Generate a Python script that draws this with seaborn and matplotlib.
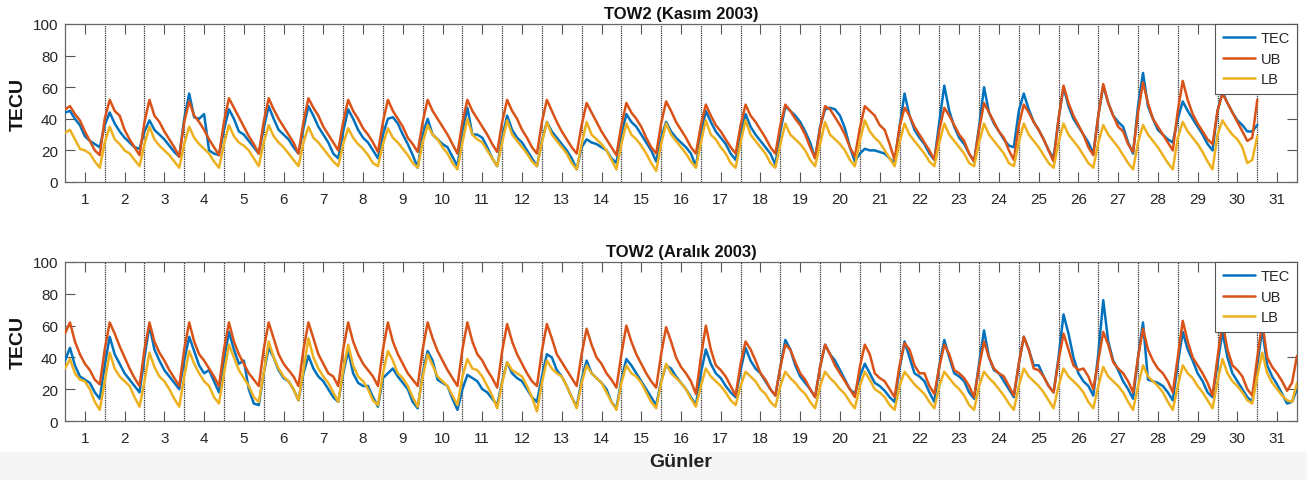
import numpy as np
import pandas as pd
import matplotlib
matplotlib.use("Agg")
import matplotlib.pyplot as plt
from matplotlib.patches import Rectangle
import seaborn as sns

# Station TOW2, TEC with upper/lower bounds, 3-hourly UT samples (00,03,...,21 h) per day.
days = list(range(1, 32))
series_names = ["TEC", "UB", "LB"]
titles = ["TOW2 (Kasım 2003)", "TOW2 (Aralık 2003)"]
sample_step_hours = 3

# ---- November 2003 (30 days, last day closes with its 24 h value) ----
nov_tec = [
    44, 45, 40, 36, 29, 26, 24, 22,
    36, 44, 37, 32, 28, 25, 22, 21,
    32, 39, 33, 30, 27, 23, 19, 16,
    40, 56, 41, 40, 43, 20, 18, 17,
    33, 46, 40, 32, 30, 26, 22, 18,
    34, 48, 40, 33, 30, 27, 22, 18,
    34, 48, 42, 35, 30, 25, 18, 15,
    32, 46, 40, 33, 28, 25, 20, 15,
    30, 40, 41, 37, 30, 24, 17, 9,
    30, 40, 30, 27, 24, 22, 16, 10,
    32, 47, 30, 30, 28, 22, 15, 10,
    28, 42, 33, 28, 25, 20, 15, 10,
    26, 38, 32, 28, 24, 20, 15, 8,
    22, 27, 25, 24, 22, 20, 15, 12,
    30, 43, 38, 35, 30, 25, 20, 13,
    28, 38, 32, 28, 25, 22, 18, 10,
    30, 45, 38, 32, 28, 24, 18, 14,
    30, 43, 35, 30, 26, 22, 18, 11,
    32, 48, 45, 42, 38, 32, 25, 15,
    35, 46, 47, 46, 42, 34, 22, 13,
    18, 21, 20, 20, 19, 18, 15, 12,
    35, 56, 42, 33, 28, 24, 18, 14,
    38, 61, 45, 35, 28, 24, 18, 13,
    35, 60, 44, 37, 32, 27, 23, 22,
    45, 56, 46, 38, 33, 27, 20, 15,
    40, 60, 48, 40, 35, 30, 25, 18,
    42, 61, 50, 42, 38, 35, 25, 18,
    48, 69, 48, 40, 33, 30, 27, 25,
    40, 51, 45, 40, 35, 30, 24, 20,
    45, 57, 50, 44, 39, 36, 32, 32, 36,
]
nov_ub = [
    46, 48, 43, 39, 32, 26, 20, 17,
    40, 52, 45, 42, 33, 27, 22, 17,
    38, 52, 42, 38, 32, 27, 22, 16,
    38, 51, 42, 38, 33, 27, 22, 17,
    38, 53, 47, 41, 35, 29, 24, 18,
    38, 53, 46, 40, 35, 30, 25, 18,
    38, 53, 47, 42, 35, 30, 25, 20,
    38, 52, 45, 40, 34, 30, 25, 19,
    38, 52, 45, 40, 35, 28, 24, 19,
    38, 52, 45, 40, 35, 30, 24, 18,
    38, 52, 45, 40, 35, 30, 24, 19,
    38, 52, 45, 40, 33, 28, 22, 18,
    38, 52, 45, 38, 32, 27, 22, 18,
    36, 50, 44, 38, 32, 27, 22, 17,
    36, 50, 44, 40, 35, 28, 22, 18,
    37, 51, 45, 38, 33, 28, 22, 18,
    36, 49, 42, 36, 32, 27, 22, 18,
    36, 49, 42, 38, 33, 28, 22, 18,
    36, 49, 45, 40, 36, 30, 22, 15,
    34, 48, 46, 41, 36, 30, 22, 16,
    34, 48, 45, 42, 36, 33, 24, 14,
    35, 47, 42, 35, 30, 25, 20, 14,
    33, 47, 42, 36, 30, 26, 18, 13,
    33, 50, 44, 38, 32, 28, 20, 14,
    36, 49, 44, 38, 33, 27, 20, 13,
    40, 61, 50, 42, 36, 30, 22, 17,
    42, 62, 50, 42, 35, 32, 24, 19,
    44, 63, 50, 40, 35, 30, 25, 20,
    45, 64, 52, 43, 37, 32, 27, 24,
    45, 56, 50, 44, 38, 32, 26, 28, 52,
]
nov_lb = [
    31, 33, 27, 21, 20, 18, 13, 9,
    25, 35, 27, 24, 20, 18, 14, 10,
    24, 35, 27, 23, 20, 17, 13, 9,
    24, 35, 28, 24, 21, 18, 13, 9,
    24, 36, 29, 25, 23, 20, 15, 10,
    25, 36, 29, 25, 22, 18, 14, 10,
    25, 35, 28, 25, 21, 17, 13, 10,
    24, 34, 28, 24, 21, 17, 12, 10,
    24, 34, 28, 25, 21, 17, 12, 9,
    25, 36, 30, 27, 22, 18, 12, 8,
    25, 40, 30, 27, 25, 20, 15, 10,
    25, 39, 30, 26, 22, 18, 13, 10,
    25, 38, 30, 26, 22, 18, 12, 8,
    24, 38, 30, 27, 24, 20, 14, 8,
    24, 37, 30, 27, 23, 18, 12, 7,
    24, 37, 30, 26, 22, 18, 13, 9,
    25, 39, 30, 27, 22, 18, 12, 9,
    25, 39, 30, 26, 22, 18, 12, 9,
    24, 37, 30, 27, 24, 20, 14, 10,
    24, 38, 30, 27, 24, 20, 14, 10,
    26, 39, 32, 28, 25, 20, 15, 10,
    25, 37, 30, 26, 22, 18, 13, 10,
    25, 37, 30, 26, 22, 18, 12, 10,
    25, 37, 30, 26, 22, 18, 12, 10,
    25, 37, 30, 26, 22, 17, 12, 9,
    25, 37, 30, 26, 22, 17, 12, 9,
    25, 36, 30, 26, 22, 17, 12, 8,
    25, 36, 30, 26, 22, 17, 12, 8,
    28, 38, 32, 28, 24, 19, 13, 8,
    30, 39, 34, 30, 27, 22, 12, 14, 29,
]

# ---- December 2003 (31 days, last day closes with its 24 h value) ----
dec_tec = [
    38, 46, 35, 28, 26, 24, 18, 14,
    35, 53, 42, 36, 30, 26, 22, 18,
    40, 60, 45, 38, 32, 28, 24, 20,
    38, 53, 44, 35, 30, 32, 25, 18,
    38, 56, 45, 36, 38, 20, 11, 10,
    30, 46, 40, 32, 27, 25, 20, 13,
    30, 41, 33, 28, 25, 20, 15, 12,
    30, 44, 30, 24, 22, 22, 15, 9,
    27, 30, 33, 28, 24, 20, 12, 8,
    30, 44, 38, 26, 24, 22, 14, 7,
    20, 29, 27, 25, 20, 18, 14, 10,
    25, 37, 30, 27, 25, 20, 15, 12,
    28, 42, 40, 32, 28, 22, 15, 9,
    26, 38, 30, 27, 24, 20, 12, 8,
    26, 39, 35, 30, 25, 20, 15, 10,
    25, 35, 33, 28, 24, 20, 15, 10,
    30, 45, 36, 30, 27, 22, 18, 15,
    32, 46, 38, 33, 30, 25, 20, 16,
    34, 51, 45, 35, 28, 24, 20, 15,
    34, 48, 42, 38, 32, 26, 20, 17,
    28, 36, 30, 24, 22, 19, 15, 12,
    33, 50, 40, 30, 28, 25, 18, 12,
    35, 51, 40, 30, 28, 25, 18, 14,
    36, 57, 40, 32, 30, 25, 20, 15,
    36, 53, 45, 35, 35, 28, 22, 18,
    40, 67, 55, 40, 30, 25, 22, 16,
    42, 76, 50, 38, 32, 25, 20, 14,
    40, 62, 26, 25, 24, 22, 18, 13,
    36, 56, 45, 38, 30, 25, 18, 15,
    36, 56, 40, 30, 25, 20, 15, 12,
    35, 58, 35, 28, 23, 17, 11, 12, 20,
]
dec_ub = [
    55, 62, 50, 42, 36, 32, 26, 23,
    45, 62, 55, 47, 40, 33, 27, 22,
    45, 62, 50, 43, 38, 32, 27, 22,
    45, 62, 50, 42, 38, 33, 28, 22,
    45, 62, 50, 42, 36, 30, 26, 22,
    45, 62, 52, 42, 36, 32, 28, 22,
    45, 62, 52, 42, 36, 30, 28, 22,
    45, 62, 50, 42, 36, 32, 28, 22,
    45, 62, 50, 42, 36, 30, 26, 22,
    45, 62, 52, 44, 38, 32, 27, 22,
    45, 62, 50, 42, 38, 32, 27, 21,
    44, 61, 50, 42, 36, 30, 25, 22,
    44, 61, 52, 42, 37, 32, 27, 22,
    42, 58, 48, 40, 36, 30, 26, 21,
    42, 60, 50, 42, 36, 30, 25, 21,
    42, 59, 50, 40, 34, 30, 25, 17,
    40, 60, 45, 35, 32, 28, 22, 16,
    36, 50, 45, 38, 30, 26, 20, 16,
    34, 48, 45, 37, 30, 26, 20, 15,
    34, 48, 42, 35, 30, 25, 20, 15,
    34, 48, 42, 30, 27, 25, 20, 15,
    35, 49, 45, 35, 30, 30, 22, 17,
    34, 48, 42, 32, 30, 27, 22, 15,
    34, 50, 40, 33, 30, 28, 22, 16,
    36, 53, 45, 33, 32, 28, 22, 18,
    38, 55, 45, 35, 32, 33, 28, 20,
    38, 56, 48, 37, 33, 30, 25, 18,
    40, 58, 45, 38, 33, 30, 25, 18,
    40, 63, 50, 40, 35, 30, 24, 16,
    40, 62, 45, 35, 32, 28, 20, 16,
    40, 62, 40, 34, 30, 25, 19, 24, 41,
]
dec_lb = [
    33, 39, 30, 26, 25, 20, 12, 7,
    25, 43, 33, 28, 25, 22, 15, 9,
    25, 43, 34, 28, 25, 20, 14, 9,
    28, 44, 36, 30, 25, 22, 15, 11,
    30, 48, 40, 32, 27, 22, 15, 12,
    30, 50, 40, 33, 28, 25, 20, 13,
    32, 52, 40, 33, 28, 24, 18, 12,
    32, 48, 35, 28, 25, 20, 13, 10,
    30, 44, 38, 30, 27, 22, 15, 9,
    28, 42, 35, 28, 25, 22, 16, 10,
    28, 39, 33, 32, 28, 22, 16, 8,
    24, 37, 32, 30, 28, 22, 15, 6,
    24, 38, 33, 30, 28, 22, 15, 8,
    24, 35, 30, 27, 24, 18, 12, 7,
    24, 35, 30, 28, 24, 18, 12, 8,
    24, 36, 30, 27, 24, 20, 14, 9,
    22, 33, 28, 25, 22, 18, 13, 10,
    22, 31, 28, 25, 20, 17, 12, 9,
    22, 31, 27, 24, 20, 17, 12, 8,
    22, 31, 27, 24, 20, 17, 12, 8,
    22, 31, 26, 20, 18, 15, 10, 7,
    22, 31, 27, 23, 20, 17, 12, 8,
    22, 31, 27, 23, 20, 16, 10, 7,
    22, 31, 27, 24, 20, 16, 11, 7,
    22, 33, 28, 25, 22, 18, 13, 8,
    22, 33, 28, 25, 22, 18, 12, 8,
    22, 34, 28, 25, 22, 18, 12, 7,
    22, 35, 28, 25, 22, 18, 12, 7,
    22, 35, 30, 27, 22, 18, 13, 8,
    25, 39, 30, 25, 22, 18, 13, 11,
    28, 43, 30, 24, 20, 16, 13, 12, 24,
]

panels = [
    {"TEC": nov_tec, "UB": nov_ub, "LB": nov_lb},
    {"TEC": dec_tec, "UB": dec_ub, "LB": dec_lb},
]
palette = {"TEC": "#0072BD", "UB": "#D95319", "LB": "#EDB120"}

sns.set_theme(style="white")
plt.rcParams["font.family"] = ["Liberation Sans", "DejaVu Sans"]

W, H = 1307, 481
fig = plt.figure(figsize=(W / 100, H / 100), dpi=100)
fig.patch.set_facecolor("white")
fig.patches.append(Rectangle((0, 0), 1, (H - 453) / H, transform=fig.transFigure,
                             facecolor="#f5f5f5", edgecolor="none", zorder=-5))

boxes = [
    (65 / W, 1 - 183 / H, 1232 / W, 158 / H),
    (65 / W, 1 - 422 / H, 1232 / W, 159 / H),
]

for k, (box, data, title) in enumerate(zip(boxes, panels, titles)):
    ax = fig.add_axes(box)
    ax.set_facecolor("white")

    frames = []
    for name in series_names:
        vals = data[name]
        x = 0.5 + np.arange(len(vals)) * sample_step_hours / 24.0
        frames.append(pd.DataFrame({"day": x, "value": vals, "series": name}))
    df = pd.concat(frames, ignore_index=True)

    for zi, name in enumerate(series_names):
        sub = df[df["series"] == name]
        sns.lineplot(data=sub, x="day", y="value", color=palette[name], label=name,
                     linewidth=1.8, sort=False, estimator=None, ax=ax, zorder=3 + zi)

    for b in np.arange(1.5, 31, 1.0):
        ax.axvline(b, color="#333333", linestyle=(0, (1.0, 0.8)), linewidth=0.9, zorder=2)

    ax.set_xlim(0.5, 31.5)
    ax.set_ylim(0, 100)
    ax.set_xticks(days)
    ax.set_xticklabels([str(d) for d in days])
    ax.set_yticks(range(0, 101, 20))
    ax.tick_params(axis="x", direction="in", top=True, bottom=True, length=7,
                   width=0.8, color="#555555", labelsize=11, labelcolor="#262626", pad=7)
    ax.tick_params(axis="y", direction="in", left=True, right=True, length=7,
                   width=0.8, color="#555555", labelsize=11, labelcolor="#262626", pad=5)
    for sp in ax.spines.values():
        sp.set_visible(True)
        sp.set_color("#666666")
        sp.set_linewidth(0.9)

    ax.set_title(title, fontsize=12, fontweight="bold", color="#111111", pad=4)
    ax.set_ylabel("TECU", fontsize=14, fontweight="bold", color="#111111")
    ax.yaxis.set_label_coords(-0.031, 0.5)
    ax.set_xlabel("Günler" if k == 1 else "", fontsize=14, fontweight="bold",
                  color="#222222", labelpad=6)

    leg = ax.legend(loc="upper right", bbox_to_anchor=(1.0, 1.0), borderaxespad=0,
                    frameon=True, fancybox=False, framealpha=1, edgecolor="#555555",
                    fontsize=10.5, handlelength=2.2, handletextpad=0.4,
                    labelspacing=0.45, borderpad=0.5)
    leg.get_frame().set_linewidth(0.8)
    leg.set_zorder(10)

fig.savefig("out.png", dpi=100, facecolor=fig.get_facecolor())
